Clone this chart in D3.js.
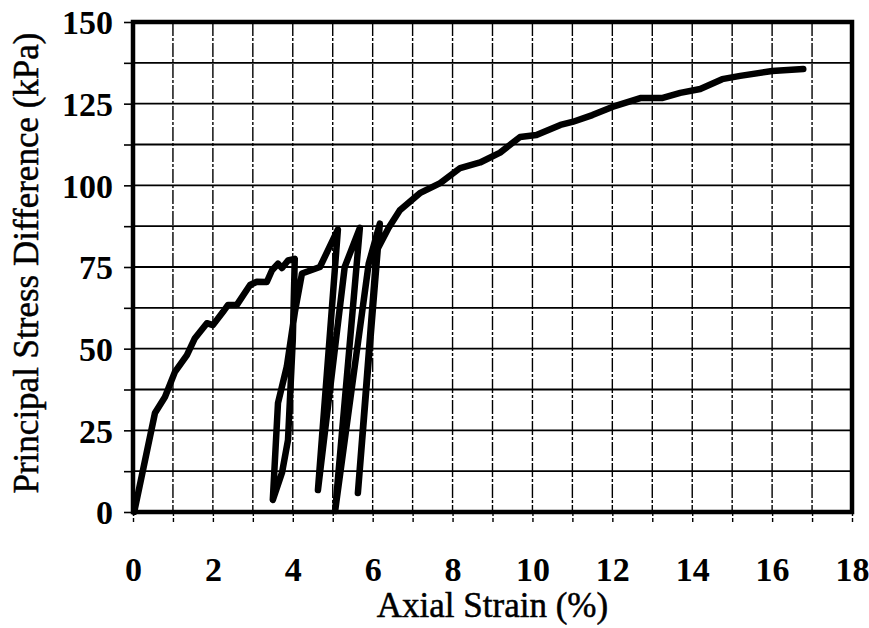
<!DOCTYPE html>
<html>
<head>
<meta charset="utf-8">
<script src="https://cdn.jsdelivr.net/npm/d3@7"></script>
<style>
  body { margin: 0; background: #fff; }
  text { font-family: "Liberation Serif", "Times New Roman", serif; fill: #000; }
</style>
</head>
<body>
<svg width="869" height="628"></svg>
<script>
// axial strain (%) and principal stress difference (kPa)
var strain = [0.03, 0.55, 0.8, 1.05, 1.35, 1.55, 1.85, 2.0, 2.25, 2.38, 2.6, 2.93, 3.1, 3.35, 3.48, 3.63, 3.73, 3.88, 4.05,
  4.0, 3.88, 3.73, 3.5,
  3.63, 3.85, 4.05, 4.23, 4.68, 5.13,
  4.63,
  5.3, 5.68,
  5.06,
  5.9, 6.18,
  5.63,
  6.1, 6.4, 6.68, 7.18, 7.69, 8.19, 8.69, 9.19, 9.69, 10.1, 10.7, 11.0, 11.5, 12.0, 12.7, 13.24, 13.7, 14.2, 14.75, 15.2, 16.0, 16.78];
var stress = [0, 30.3, 35.2, 42.9, 48, 53.2, 57.8, 57.2, 61.2, 63.4, 63.4, 69.5, 70.5, 70.4, 74, 76, 74.7, 77, 77.5,
  52.6, 22, 12, 3.7,
  33.4, 44.5, 61, 73, 75, 86.5,
  6.7,
  75, 87,
  0.3,
  76, 88.3,
  5.8,
  80, 87, 92.4, 97.6, 100.7, 105.3, 107, 110, 114.8, 115.4, 118.5, 119.4, 121.5, 124, 126.7, 126.7, 128.3, 129.5, 132.5, 133.5, 135, 135.6];

var xTicks = [0, 2, 4, 6, 8, 10, 12, 14, 16, 18];
var yTicks = [0, 25, 50, 75, 100, 125, 150];

var svg = d3.select("svg"),
  width = +svg.attr("width"),
  height = +svg.attr("height");
var margin = {top: 22, right: 17, bottom: 116, left: 133};

var x = d3.scaleLinear().domain([0, 18]).range([margin.left, width - margin.right]);
var y = d3.scaleLinear().domain([0, 150]).range([height - margin.bottom, margin.top]);

// grid: dashed verticals every 1 %, solid horizontals every 12.5 kPa
svg.append("g")
  .selectAll("line")
  .data(d3.range(1, 18))
  .enter().append("line")
  .attr("x1", d => x(d)).attr("x2", d => x(d))
  .attr("y1", y(150)).attr("y2", y(0))
  .attr("stroke", "#000")
  .attr("stroke-width", 1.4)
  .attr("stroke-dasharray", "14,2,3,2");

svg.append("g")
  .selectAll("line")
  .data(d3.range(12.5, 150, 12.5))
  .enter().append("line")
  .attr("x1", x(0)).attr("x2", x(18))
  .attr("y1", d => y(d)).attr("y2", d => y(d))
  .attr("stroke", "#000")
  .attr("stroke-width", 1.8);

// axes
var xAxis = svg.append("g")
  .attr("transform", "translate(0," + y(0) + ")")
  .call(d3.axisBottom(x).tickValues(d3.range(0, 19, 1)).tickSize(10)
    .tickFormat(d => xTicks.indexOf(d) >= 0 ? d : ""));
xAxis.select(".domain").remove();
xAxis.selectAll(".tick line").attr("stroke-width", 1.4).attr("stroke-dasharray", "4,2");
xAxis.selectAll(".tick text")
  .attr("y", 45)
  .style("font-size", "34px")
  .style("font-weight", "bold");

var yAxis = svg.append("g")
  .attr("transform", "translate(" + x(0) + ",0)")
  .call(d3.axisLeft(y).tickValues(d3.range(0, 150.1, 12.5)).tickSize(9)
    .tickFormat(d => yTicks.indexOf(d) >= 0 ? d : ""));
yAxis.select(".domain").remove();
yAxis.selectAll(".tick line").attr("stroke-width", 1.6);
yAxis.selectAll(".tick text")
  .attr("x", -20)
  .attr("dy", "0.35em")
  .style("font-size", "34px")
  .style("font-weight", "bold");

// plot frame
svg.append("rect")
  .attr("x", x(0)).attr("y", y(150))
  .attr("width", x(18) - x(0)).attr("height", y(0) - y(150))
  .attr("fill", "none")
  .attr("stroke", "#000")
  .attr("stroke-width", 4.5);

// curve
var pts = strain.map((s, i) => [s, stress[i]]);
svg.append("path")
  .datum(pts)
  .attr("fill", "none")
  .attr("stroke", "#000")
  .attr("stroke-width", 6.5)
  .attr("stroke-linejoin", "round")
  .attr("stroke-linecap", "round")
  .attr("d", d3.line().x(d => x(d[0])).y(d => y(d[1])));

// titles
svg.append("text")
  .attr("x", (x(0) + x(18)) / 2)
  .attr("y", 617)
  .attr("text-anchor", "middle")
  .style("font-size", "35px")
  .style("stroke", "#000")
  .style("stroke-width", 0.5)
  .text("Axial Strain (%)");

svg.append("text")
  .attr("transform", "translate(38,263) rotate(-90)")
  .attr("text-anchor", "middle")
  .style("font-size", "35px")
  .style("stroke", "#000")
  .style("stroke-width", 0.5)
  .text("Principal Stress Difference (kPa)");
</script>
</body>
</html>
